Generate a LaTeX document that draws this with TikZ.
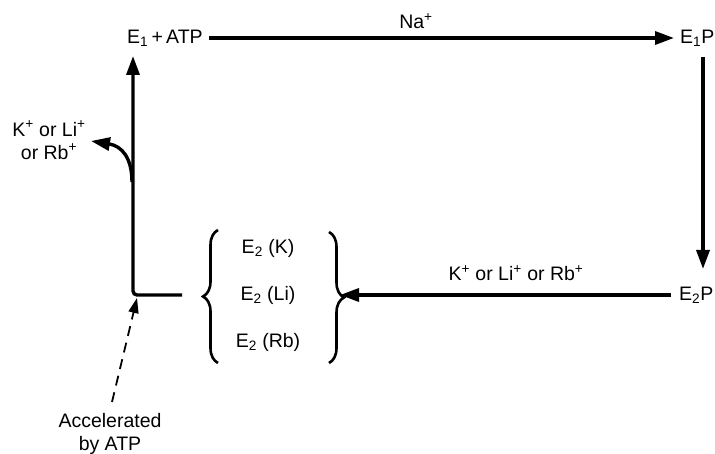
\documentclass[tikz,border=0pt]{standalone}
\usepackage{fontspec}
\setmainfont{Liberation Sans}
\usetikzlibrary{arrows.meta,decorations.pathreplacing}
\begin{document}
\begin{tikzpicture}[x=1pt,y=-1pt,
  lab/.style={inner sep=0pt,font=\fontsize{19.5}{23}\selectfont},
  conn/.style={line width=3.4pt,-{Triangle[length=19pt,width=13pt]}},
  brc/.style={line width=2.6pt,decorate,decoration={brace,amplitude=15pt,aspect=0.5}}]
\useasboundingbox (0,0) rectangle (715,454);
\node[lab,anchor=west] (e1atp) at (127,38) {E\textsubscript{1}\,+\,ATP};
\node[lab,anchor=west] (e1p) at (680,38) {E\textsubscript{1}P};
\node[lab,anchor=west] (e2p) at (679,295) {E\textsubscript{2}P};
\node[lab] (na) at (416,21) {Na\textsuperscript{+}};
\node[lab] (kbot) at (516,273) {K\textsuperscript{+} or Li\textsuperscript{+} or Rb\textsuperscript{+}};
\node[lab] (e2k) at (268,248) {E\textsubscript{2} (K)};
\node[lab] (e2li) at (268,295) {E\textsubscript{2} (Li)};
\node[lab] (e2rb) at (268,342) {E\textsubscript{2} (Rb)};
\node[lab,align=center] (kleft) at (49,140) {K\textsuperscript{+} or Li\textsuperscript{+}\\or Rb\textsuperscript{+}};
\node[lab,align=center] (acc) at (110,434) {Accelerated\\by ATP};
\coordinate (lbt) at (218,363);
\coordinate (lbb) at (218,230);
\coordinate (rbt) at (329,232);
\coordinate (rbb) at (329,363);
\draw[brc] (lbt) -- (lbb);
\draw[brc] (rbt) -- (rbb);
\coordinate (rtip) at (340,295);
\coordinate (lend) at (182,295);
\coordinate (corner) at (133,295);
\coordinate (uptip) at (133,56);
\coordinate (br) at (132,182);
\coordinate (brtip) at (91,141);
\coordinate (dashs) at (112,402);
\coordinate (dashe) at (137,298);
\coordinate (vtop) at (703,57);
\coordinate (vbot) at (703,269);
\draw[conn,shorten <=6pt] (e1atp.east) -- ([xshift=-6pt]e1p.west);
\draw[conn] (vtop) -- (vbot);
\draw[conn,shorten <=8pt] (e2p.west) -- (rtip);
\draw[conn,rounded corners=4pt] (lend) -- (corner) -- (uptip);
\draw[conn] (br) .. controls (132,158) and (122,146) .. (brtip);
\draw[line width=1.8pt,dash pattern=on 10pt off 7pt,-{Triangle[length=15pt,width=10pt]}] (dashs) -- (dashe);
\end{tikzpicture}
\end{document}
